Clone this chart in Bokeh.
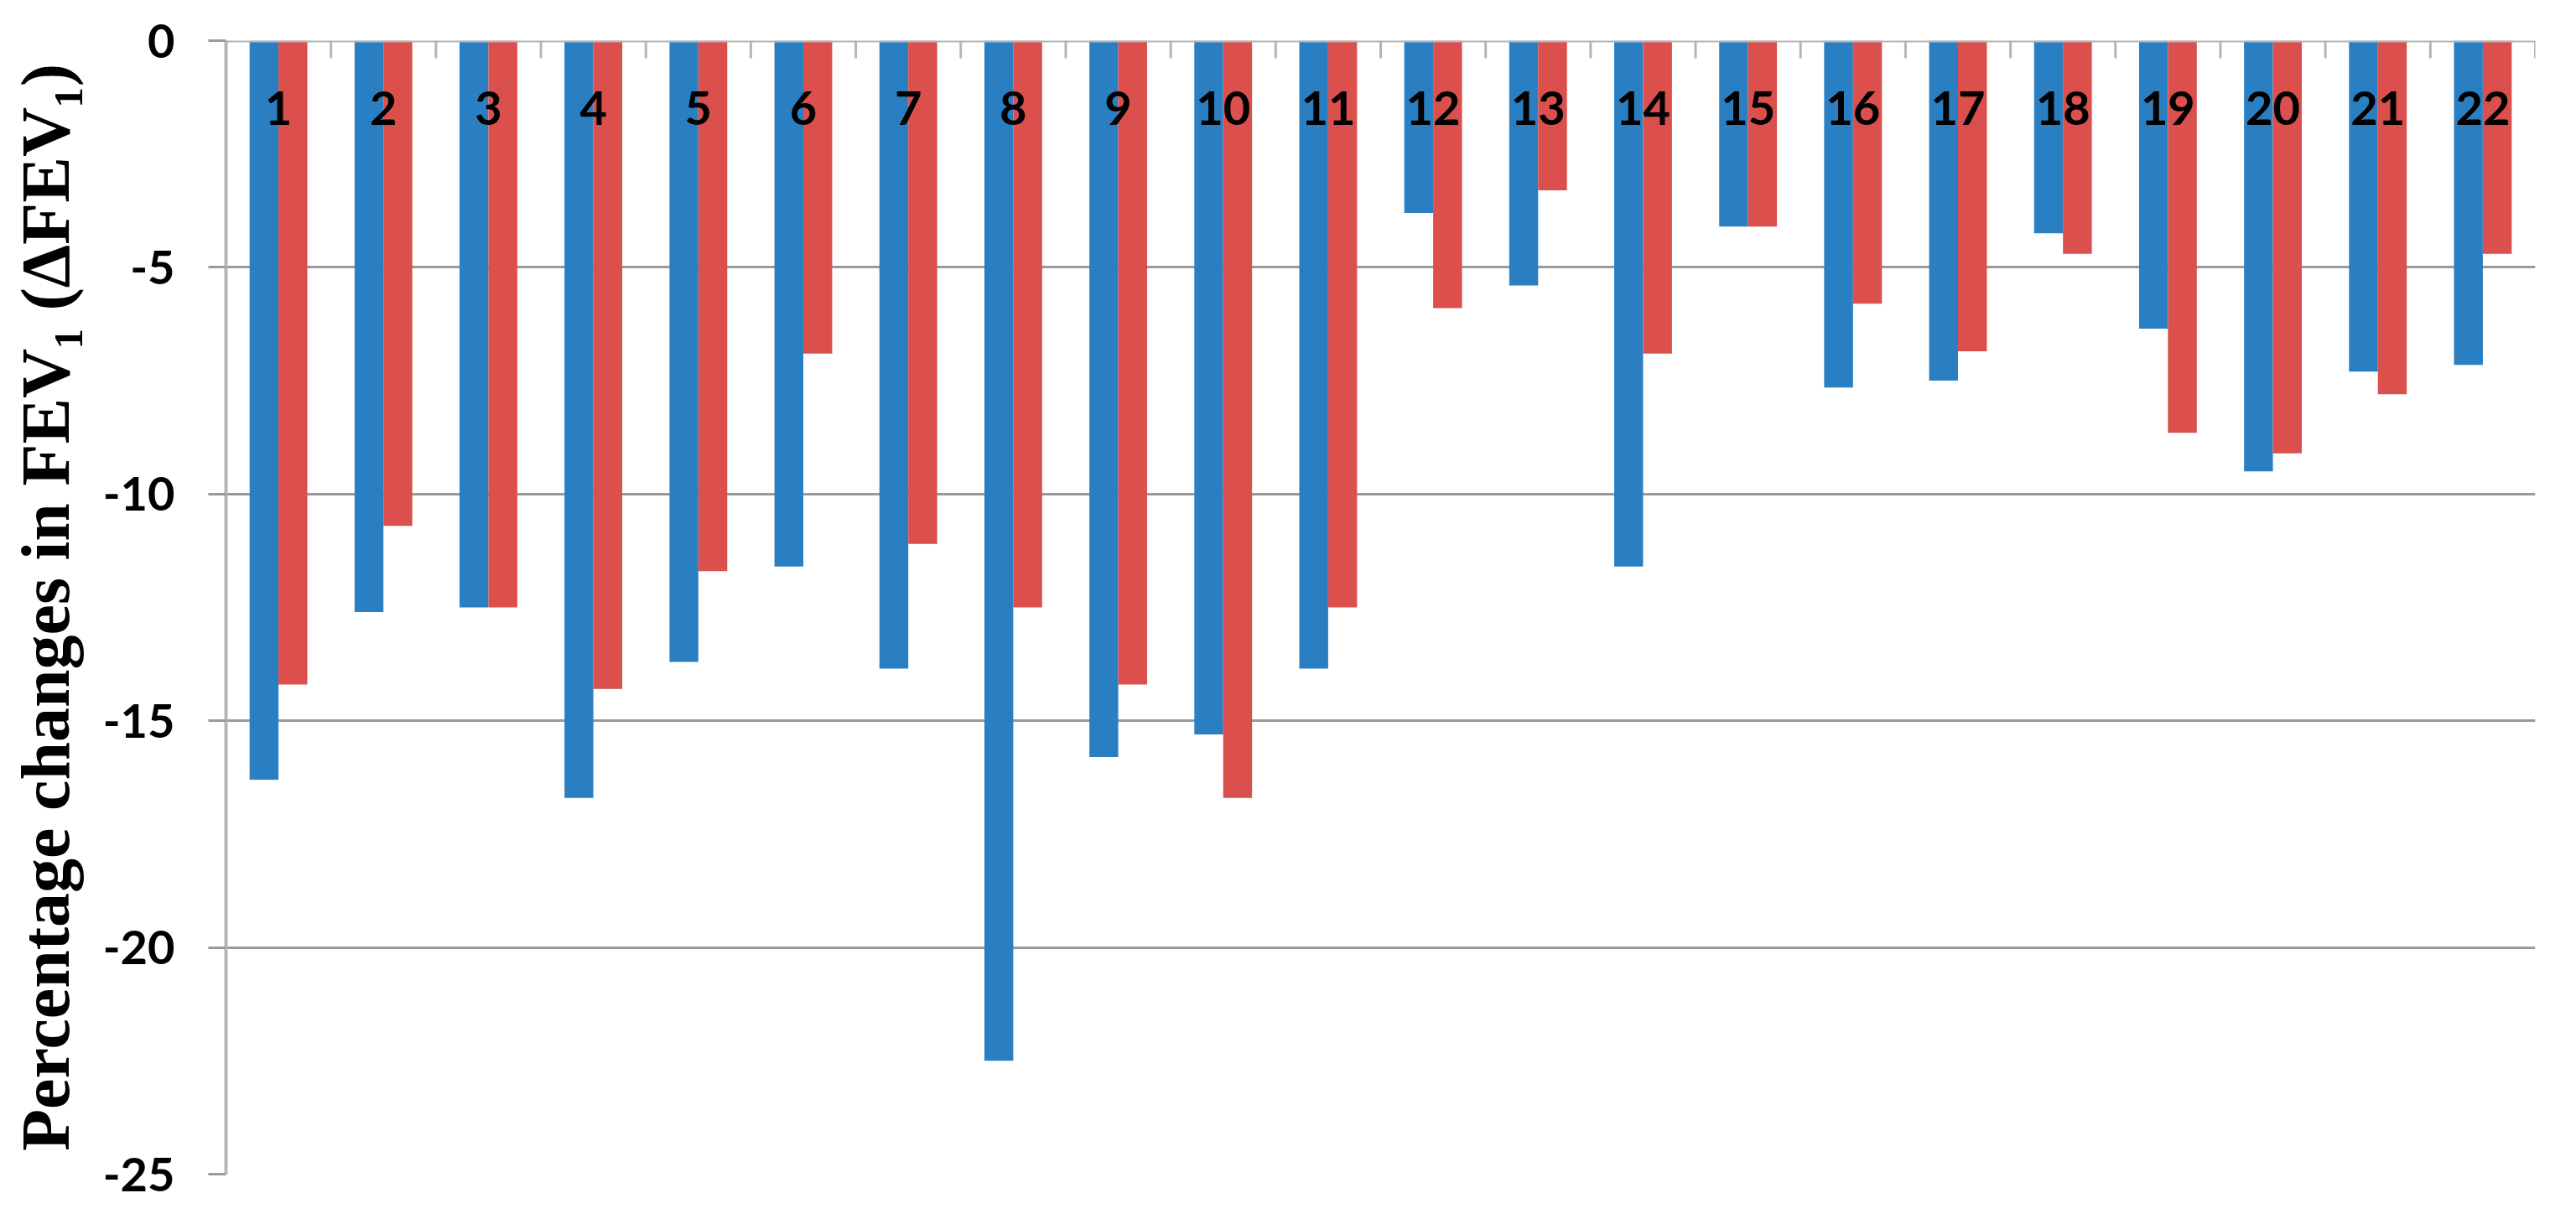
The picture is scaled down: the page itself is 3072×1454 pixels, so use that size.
from bokeh.plotting import figure
from bokeh.models import ColumnDataSource, FixedTicker, Range1d, Span
from bokeh.transform import dodge
from bokeh.core.properties import value
from bokeh.embed import file_html
from bokeh.resources import INLINE

# ---- data ----
patients = list(range(1, 23))
patient_labels = [str(i) for i in patients]
series_blue = [-16.3, -12.6, -12.5, -16.7, -13.7, -11.6, -13.85, -22.5, -15.8, -15.3, -13.85,
               -3.8, -5.4, -11.6, -4.1, -7.65, -7.5, -4.25, -6.35, -9.5, -7.3, -7.15]
series_red = [-14.2, -10.7, -12.5, -14.3, -11.7, -6.9, -11.1, -12.5, -14.2, -16.7, -12.5,
              -5.9, -3.3, -6.9, -4.1, -5.8, -6.85, -4.7, -8.65, -9.1, -7.8, -4.7]
y_ticks = [0, -5, -10, -15, -20, -25]
y_tick_labels = ["0", "-5", "-10", "-15", "-20", "-25"]

BLUE = "#2A7FC2"
RED = "#DB4F4C"
GRID = "#9A9A9A"
AXIS = "#B5B5B5"

src = ColumnDataSource(dict(x=patients, label=patient_labels, blue=series_blue, red=series_red))
# category boundaries (for the tick marks hanging from the zero line)
boundaries = [0.5] + [x + 0.5 for x in patients]
bsrc = ColumnDataSource(dict(x=boundaries, y=[0] * len(boundaries)))

p = figure(width=3056, height=1438,
           x_range=Range1d(0.5, 22.5), y_range=Range1d(-25, 0),
           x_axis_location=None,
           output_backend="svg", toolbar_location=None)
p.min_border_left = 269
p.min_border_right = 33
p.min_border_top = 48
p.min_border_bottom = 38
p.outline_line_color = None
p.background_fill_color = "white"
p.border_fill_color = "white"

# grid
p.xgrid.visible = False
p.ygrid.ticker = FixedTicker(ticks=y_ticks)
p.ygrid.grid_line_color = GRID
p.ygrid.grid_line_width = 3

bar_w = 0.275
p.vbar(x=dodge("x", -bar_w / 2), top="blue", bottom=0, width=bar_w,
       fill_color=BLUE, line_color=None, source=src)
p.vbar(x=dodge("x", bar_w / 2), top="red", bottom=0, width=bar_w,
       fill_color=RED, line_color=None, source=src)

# zero line (category axis) with boundary ticks
p.add_layout(Span(location=0, dimension="width", line_color=AXIS, line_width=4))
p.ray(x="x", y="y", length=21, length_units="screen", angle=-90, angle_units="deg",
      line_color=AXIS, line_width=3, source=bsrc)

p.text(x="x", y=0, text="label", source=src, y_offset=80,
       text_font=value("Lato"), text_font_style="bold", text_font_size="56px",
       text_align="center", text_baseline="middle", text_color="black")

# y axis
ya = p.yaxis[0]
ya.ticker = FixedTicker(ticks=y_ticks)
ya.major_label_overrides = {t: l for t, l in zip(y_ticks, y_tick_labels)}
ya.major_label_text_font = "Lato"
ya.major_label_text_font_style = "bold"
ya.major_label_text_font_size = "56px"
ya.major_label_text_color = "black"
ya.major_label_standoff = 40
ya.major_tick_in = 0
ya.major_tick_out = 21
ya.major_tick_line_color = GRID
ya.major_tick_line_width = 3
ya.minor_tick_line_color = None
ya.axis_line_color = AXIS
ya.axis_line_width = 4
ya.axis_label = "Percentage changes in FEV\u2081 (\u0394FEV\u2081)"
ya.axis_label_text_font = "Liberation Serif"
ya.axis_label_text_font_style = "bold"
ya.axis_label_text_font_size = "82px"
ya.axis_label_text_color = "black"
ya.axis_label_standoff = 20

open("out.html", "w").write(file_html(p, INLINE))
